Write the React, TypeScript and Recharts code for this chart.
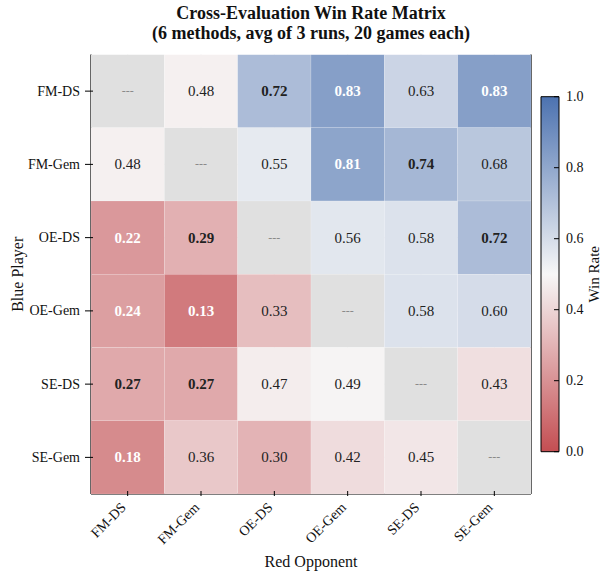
import {
  ScatterChart,
  Scatter,
  XAxis,
  YAxis,
  ReferenceLine,
  BarChart,
  Bar,
} from 'recharts';

const methods = ['FM-DS', 'FM-Gem', 'OE-DS', 'OE-Gem', 'SE-DS', 'SE-Gem'];

// rows = blue player, cols = red opponent (null on the diagonal)
const fmDsRow = [null, 0.48, 0.72, 0.83, 0.63, 0.83];
const fmGemRow = [0.48, null, 0.55, 0.81, 0.74, 0.68];
const oeDsRow = [0.22, 0.29, null, 0.56, 0.58, 0.72];
const oeGemRow = [0.24, 0.13, 0.33, null, 0.58, 0.6];
const seDsRow = [0.27, 0.27, 0.47, 0.49, null, 0.43];
const seGemRow = [0.18, 0.36, 0.3, 0.42, 0.45, null];
const winRates = [fmDsRow, fmGemRow, oeDsRow, oeGemRow, seDsRow, seGemRow];

// cells shown in bold
const boldCells = [
  [0, 0, 1, 1, 0, 1],
  [0, 0, 0, 1, 1, 0],
  [1, 1, 0, 0, 0, 1],
  [1, 1, 0, 0, 0, 0],
  [1, 1, 0, 0, 0, 0],
  [1, 0, 0, 0, 0, 0],
];

const colorbarTicks = [0, 0.2, 0.4, 0.6, 0.8, 1.0];

const W = 602;
const H = 574;
const PLOT_L = 91;
const PLOT_R = 531;
const PLOT_T = 54.5;
const PLOT_B = 494;
const CELL_W = (PLOT_R - PLOT_L) / methods.length;
const CELL_H = (PLOT_B - PLOT_T) / methods.length;
const FONT = '"Liberation Serif", "DejaVu Serif", serif';

const LOW = [196, 78, 82];
const MID = [247, 247, 247];
const HIGH = [76, 114, 176];

function cmap(v: number) {
  const a = v < 0.5 ? LOW : MID;
  const b = v < 0.5 ? MID : HIGH;
  const t = v < 0.5 ? v / 0.5 : (v - 0.5) / 0.5;
  const c = a.map((ch, i) => Math.round(ch + (b[i] - ch) * t));
  return `rgb(${c[0]},${c[1]},${c[2]})`;
}

const cells = winRates.flatMap((row, r) =>
  row.map((v, c) => ({ x: c, y: r, v, bold: boldCells[r][c] === 1 }))
);

const CellShape = (props: any) => {
  const { cx, cy, payload } = props;
  const v = payload.v;
  const fill = v === null ? '#e0e0e0' : cmap(v);
  const light = v !== null && (v >= 0.8 || v <= 0.25);
  return (
    <g>
      <rect
        x={cx - CELL_W / 2}
        y={cy - CELL_H / 2}
        width={CELL_W}
        height={CELL_H}
        fill={fill}
        stroke="#ffffff"
        strokeOpacity={0.3}
        strokeWidth={0.5}
      />
      <text
        x={cx}
        y={cy}
        textAnchor="middle"
        dominantBaseline="central"
        fontFamily={FONT}
        fontSize={v === null ? 12 : 15}
        fontWeight={payload.bold ? 'bold' : 'normal'}
        fill={v === null ? '#8a8a8a' : light ? '#ffffff' : '#222222'}
      >
        {v === null ? '---' : v.toFixed(2)}
      </text>
    </g>
  );
};

const XTick = (props: any) => {
  const { x, y, payload } = props;
  return (
    <g>
      <line x1={x} x2={x} y1={y} y2={y - 5} stroke="#000" />
      <text
        transform={`translate(${x - 4},${y + 9}) rotate(-45)`}
        textAnchor="end"
        dominantBaseline="central"
        fontFamily={FONT}
        fontSize={14}
        fill="#111"
      >
        {methods[payload.value]}
      </text>
    </g>
  );
};

const YTick = (props: any) => {
  const { x, y, payload } = props;
  return (
    <g>
      <line x1={x - 4} x2={x + 4} y1={y} y2={y} stroke="#000" />
      <text
        x={x - 9}
        y={y}
        textAnchor="end"
        dominantBaseline="central"
        fontFamily={FONT}
        fontSize={14}
        fill="#111"
      >
        {methods[payload.value]}
      </text>
    </g>
  );
};

const BarTick = (props: any) => {
  const { x, y, payload } = props;
  return (
    <g>
      <line x1={x - 5} x2={x} y1={y} y2={y} stroke="#000" />
      <text
        x={x + 7}
        y={y}
        textAnchor="start"
        dominantBaseline="central"
        fontFamily={FONT}
        fontSize={14}
        fill="#111"
      >
        {payload.value.toFixed(1)}
      </text>
    </g>
  );
};

const App = () => {
  const idx = methods.map((_, i) => i);
  return (
    <div style={{ position: 'absolute', left: 0, top: 0, width: W, height: H, background: '#fff' }}>
      <div
        style={{
          position: 'absolute',
          left: PLOT_L,
          width: PLOT_R - PLOT_L,
          top: 3,
          textAlign: 'center',
          fontFamily: FONT,
          fontWeight: 'bold',
          fontSize: 18,
          lineHeight: '20px',
          color: '#111',
        }}
      >
        Cross-Evaluation Win Rate Matrix
        <br />
        (6 methods, avg of 3 runs, 20 games each)
      </div>

      <div style={{ position: 'absolute', left: 0, top: 0 }}>
        <ScatterChart
          width={W}
          height={H}
          margin={{ top: PLOT_T, right: 0, bottom: 0, left: 0 }}
        >
          <XAxis
            type="number"
            dataKey="x"
            domain={[-0.5, 5.5]}
            ticks={idx}
            interval={0}
            tickSize={0}
            tickLine={false}
            tick={<XTick />}
            height={H - PLOT_B}
            axisLine={{ stroke: '#000', strokeWidth: 1.2 }}
            allowDataOverflow
            label={{
              content: (p: any) => {
                const vb = p.viewBox;
                return (
                  <text
                    x={vb.x + vb.width / 2}
                    y={561}
                    textAnchor="middle"
                    dominantBaseline="central"
                    fontFamily={FONT}
                    fontSize={16}
                    fill="#111"
                  >
                    Red Opponent
                  </text>
                );
              },
            }}
          />
          <XAxis
            xAxisId="top"
            orientation="top"
            type="number"
            domain={[-0.5, 5.5]}
            height={0}
            tick={false}
            tickLine={false}
            axisLine={{ stroke: '#000', strokeWidth: 1.2 }}
          />
          <YAxis
            type="number"
            dataKey="y"
            reversed
            domain={[-0.5, 5.5]}
            ticks={idx}
            interval={0}
            tickSize={0}
            tickLine={false}
            tick={<YTick />}
            width={PLOT_L}
            axisLine={{ stroke: '#000', strokeWidth: 1.2 }}
            allowDataOverflow
            label={{
              content: (p: any) => {
                const vb = p.viewBox;
                const cy = vb.y + vb.height / 2;
                return (
                  <text
                    x={17}
                    y={cy}
                    transform={`rotate(-90, 17, ${cy})`}
                    textAnchor="middle"
                    dominantBaseline="central"
                    fontFamily={FONT}
                    fontSize={16}
                    fill="#111"
                  >
                    Blue Player
                  </text>
                );
              },
            }}
          />
          <YAxis
            yAxisId="right"
            orientation="right"
            type="number"
            domain={[-0.5, 5.5]}
            width={W - PLOT_R}
            tick={false}
            tickLine={false}
            axisLine={{ stroke: '#000', strokeWidth: 1.2 }}
          />
          <Scatter data={cells} shape={<CellShape />} isAnimationActive={false} />
          {idx.map((i) => (
            <ReferenceLine key={`gx${i}`} x={i} stroke="#000" strokeOpacity={0.07} />
          ))}
          {idx.map((i) => (
            <ReferenceLine key={`gy${i}`} y={i} stroke="#000" strokeOpacity={0.07} />
          ))}
        </ScatterChart>
      </div>

      <div style={{ position: 'absolute', left: 0, top: 0 }}>
        <BarChart
          width={W}
          height={H}
          data={[{ name: 'cb', v: 1 }]}
          margin={{ top: 96.7, right: 0, bottom: H - 451.7, left: 541 }}
          barCategoryGap={0}
        >
          <defs>
            <linearGradient id="cbGrad" x1="0" y1="0" x2="0" y2="1">
              <stop offset="0%" stopColor={cmap(1)} />
              <stop offset="50%" stopColor={cmap(0.5)} />
              <stop offset="100%" stopColor={cmap(0)} />
            </linearGradient>
          </defs>
          <XAxis dataKey="name" hide />
          <YAxis
            orientation="right"
            domain={[0, 1]}
            ticks={colorbarTicks}
            interval={0}
            width={W - 559}
            tickSize={0}
            tickMargin={0}
            tick={<BarTick />}
            tickLine={false}
            axisLine={false}
            label={{
              content: (p: any) => {
                const vb = p.viewBox;
                const cy = vb.y + vb.height / 2;
                return (
                  <text
                    x={594}
                    y={cy}
                    transform={`rotate(-90, 594, ${cy})`}
                    textAnchor="middle"
                    dominantBaseline="central"
                    fontFamily={FONT}
                    fontSize={15}
                    fill="#111"
                  >
                    Win Rate
                  </text>
                );
              },
            }}
          />
          <Bar dataKey="v" fill="url(#cbGrad)" stroke="#000" strokeWidth={1} isAnimationActive={false} />
        </BarChart>
      </div>
    </div>
  );
};

export default App;
